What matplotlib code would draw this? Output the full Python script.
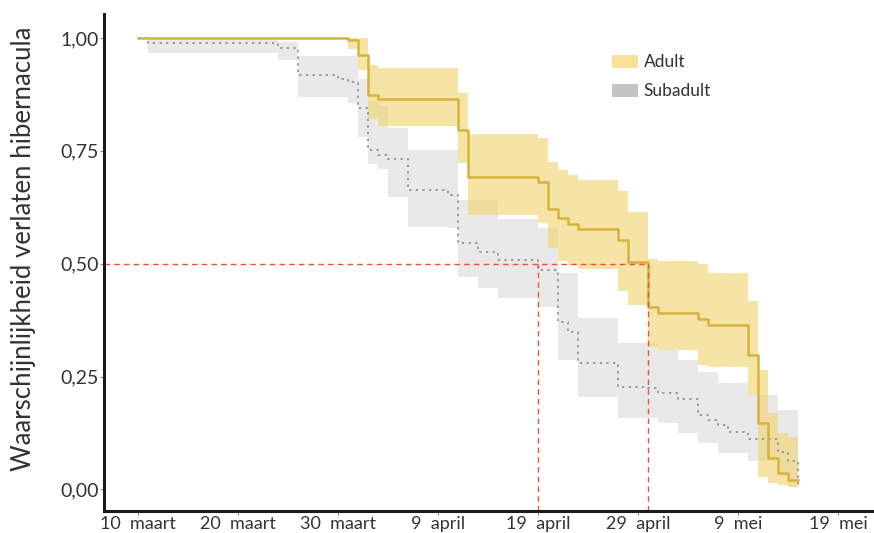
import matplotlib
matplotlib.use("Agg")
import matplotlib.pyplot as plt
from matplotlib.patches import Patch

# ---- data (day 0 = 10 maart) ----
adult_days  = [0, 21, 22, 23, 24, 32, 33, 40, 41, 42, 43, 44, 48, 49, 51, 52, 56, 57, 61, 62, 63, 64, 65, 66]
adult_surv  = [1.0, .995, .962, .874, .864, .795, .691, .680, .621, .601, .588, .577, .553, .504, .404, .390, .378, .364, .298, .148, .070, .037, .021, .021]
adult_upper = [1.0, 1.0, 1.0, .94, .933, .878, .787, .778, .726, .708, .697, .686, .66, .615, .51, .505, .50, .479, .418, .265, .169, .125, .117, .117]
adult_lower = [1.0, .976, .929, .82, .804, .722, .608, .59, .535, .505, .497, .488, .44, .408, .316, .31, .276, .272, .209, .028, .014, .01, .006, .006]

sub_days  = [0, 1, 14, 16, 20, 21, 22, 23, 24, 25, 27, 31, 32, 34, 36, 40, 42, 43, 44, 48, 51, 52, 54, 56, 57, 58, 59, 61, 64, 65, 66]
sub_surv  = [1.0, .988, .978, .918, .909, .903, .844, .752, .741, .731, .663, .652, .545, .527, .508, .486, .372, .349, .281, .228, .225, .213, .200, .165, .154, .143, .128, .111, .084, .062, .006]
sub_upper = [1.0, .997, .99, .961, .961, .961, .91, .86, .85, .80, .752, .752, .64, .64, .60, .58, .48, .48, .38, .324, .324, .31, .287, .26, .26, .236, .236, .21, .175, .175, .175]
sub_lower = [1.0, .967, .951, .87, .87, .856, .78, .72, .71, .648, .581, .579, .47, .446, .424, .405, .287, .287, .205, .158, .158, .147, .125, .103, .103, .081, .081, .062, .03, .006, .006]

tick_days   = [0, 10, 20, 30, 40, 50, 60, 70]
tick_labels = ["10  maart", "20  maart", "30  maart", "9  april", "19  april", "29  april", "9  mei", "19  mei"]
y_ticks     = [0.0, 0.25, 0.5, 0.75, 1.0]
y_labels    = ["0,00", "0,25", "0,50", "0,75", "1,00"]

median_level = 0.5
median_sub   = 40
median_adult = 51

plt.rcParams['font.family'] = ['Lato', 'DejaVu Sans']

fig = plt.figure(figsize=(8.74, 5.33), dpi=100)
ax = fig.add_axes([0.119, 0.0418, 0.881, 0.932])

# bands
ax.fill_between(sub_days, sub_lower, sub_upper, step='post', color='#C4C4C4', alpha=0.36, linewidth=0)
ax.fill_between(adult_days, adult_lower, adult_upper, step='post', color='#F0D676', alpha=0.65, linewidth=0)

# lines
ax.step(sub_days, sub_surv, where='post', color='#9A9A9A', linestyle=(0, (1.2, 2.2)), linewidth=1.4)
ax.step(adult_days, adult_surv, where='post', color='#D6B23E', linewidth=1.8)

# median dashed lines
red = '#F0503A'
ax.plot([-3.4, median_adult], [median_level, median_level], color=red, linestyle=(0, (4, 3)), linewidth=1.0)
ax.plot([median_sub, median_sub], [-0.047, median_level], color=red, linestyle=(0, (4, 3)), linewidth=1.0)
ax.plot([median_adult, median_adult], [-0.047, median_level], color=red, linestyle=(0, (4, 3)), linewidth=1.0)

ax.set_xlim(-3.4, 73.6)
ax.set_ylim(-0.047, 1.053)

ax.set_xticks(tick_days)
ax.set_xticklabels(tick_labels)
ax.set_yticks(y_ticks)
ax.set_yticklabels(y_labels)

for s in ['top', 'right']:
    ax.spines[s].set_visible(False)
for s in ['left', 'bottom']:
    ax.spines[s].set_linewidth(2.2)
    ax.spines[s].set_color('#1a1a1a')

ax.tick_params(axis='both', colors='#888888', length=3, width=0.8, labelcolor='#333333', labelsize=14)
ax.tick_params(axis='x', pad=1, labelsize=13)
ax.tick_params(axis='y', pad=1)

ax.set_ylabel("Waarschijnlijkheid verlaten hibernacula", fontsize=18.5, color='#333333')
ax.yaxis.set_label_coords(-0.088, 0.527)

handles = [Patch(facecolor='#F8E29A', edgecolor='none', label='Adult'),
           Patch(facecolor='#C4C4C4', edgecolor='none', label='Subadult')]
leg = ax.legend(handles=handles, loc='upper left', bbox_to_anchor=(0.64, 0.95), frameon=False,
                fontsize=12.5, handlelength=1.45, handleheight=0.8, handletextpad=0.35, labelspacing=0.75)
for t in leg.get_texts():
    t.set_color('#333333')

fig.savefig('out.png', dpi=100)
